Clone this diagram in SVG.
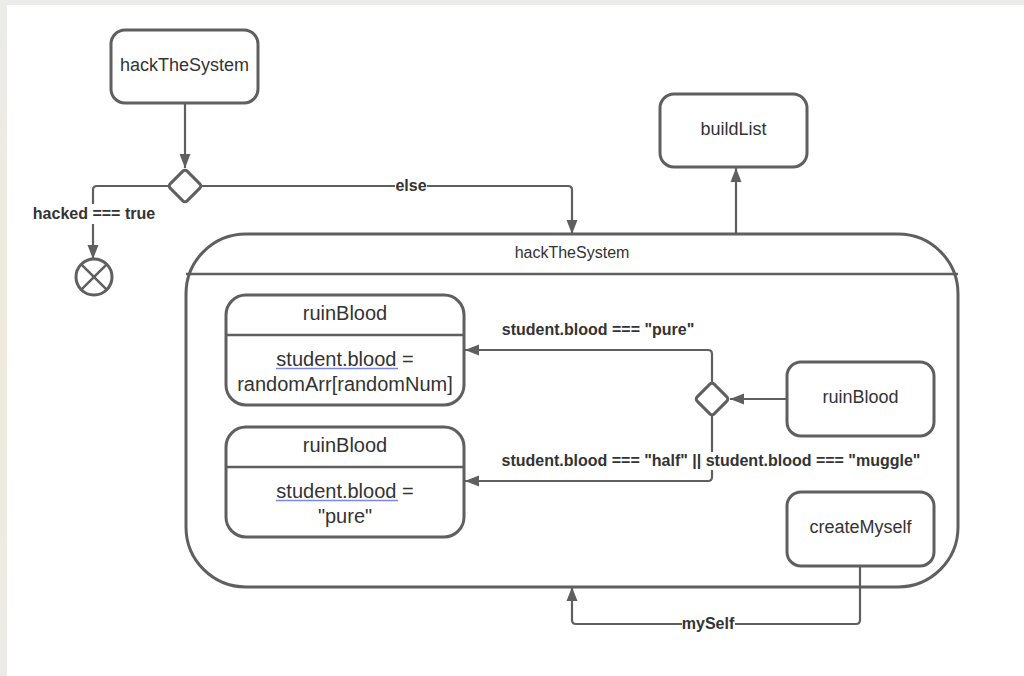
<svg xmlns="http://www.w3.org/2000/svg" width="1024" height="676" viewBox="0 0 1024 676">
<style>
.node{fill:#fff;stroke:#5f5f5f;stroke-width:3}
.line{fill:none;stroke:#5f5f5f;stroke-width:2.5}
.conn{fill:none;stroke:#5f5f5f;stroke-width:2.2}
.t{font-family:"Liberation Sans",Arial,sans-serif;fill:#333;text-anchor:middle}
.n18{font-size:18px}
.n20{font-size:20px}
.n16{font-size:16px}
.lbl{font-family:"Liberation Sans",Arial,sans-serif;font-weight:bold;font-size:16px;fill:#333;text-anchor:middle}
.ul{stroke:#7b86f0;stroke-width:1.3}
</style>
<defs>
<marker id="arr" markerUnits="userSpaceOnUse" markerWidth="14" markerHeight="12" refX="14" refY="6" orient="auto">
<path d="M0,0.5 L14,6 L0,11.5 z" fill="#5f5f5f"/>
</marker>
<linearGradient id="bg" x1="0" y1="0" x2="0" y2="1">
<stop offset="0" stop-color="#ebebe8"/>
<stop offset="0.5" stop-color="#efeadb"/>
<stop offset="1" stop-color="#ecebe6"/>
</linearGradient>
</defs>
<rect x="0" y="0" width="1024" height="676" fill="url(#bg)"/>
<rect x="7" y="5" width="1017" height="671" fill="#fff"/>

<g id="container">
<rect class="node" x="186" y="234" width="772" height="353" rx="60"/>
<line class="line" x1="186" y1="274" x2="958" y2="274"/>
<text class="t n16" x="572" y="258">hackTheSystem</text>
</g>

<g id="connectors">
<path class="conn" d="M185,103 V168" marker-end="url(#arr)"/>
<path class="conn" d="M168,186 H97 Q93,186 93,190 V259" marker-end="url(#arr)"/>
<path class="conn" d="M202,186 H568 Q572,186 572,190 V234" marker-end="url(#arr)"/>
<path class="conn" d="M736,234 V168" marker-end="url(#arr)"/>
<path class="conn" d="M787,399 H730" marker-end="url(#arr)"/>
<path class="conn" d="M712,382 V354 Q712,350 708,350 H465" marker-end="url(#arr)"/>
<path class="conn" d="M712,416 V477 Q712,481 708,481 H465" marker-end="url(#arr)"/>
<path class="conn" d="M860,566 V620 Q860,624 856,624 H576 Q572,624 572,620 V587" marker-end="url(#arr)"/>
<rect x="32" y="204" width="124" height="20" fill="#fff"/>
<text class="lbl" x="94" y="219">hacked === true</text>
<rect x="395" y="178" width="32" height="16" fill="#fff"/>
<text class="lbl" x="411" y="191">else</text>
<text class="lbl" x="598" y="335">student.blood === "pure"</text>
<rect x="499" y="452" width="426" height="18" fill="#fff"/>
<text class="lbl" x="711" y="466">student.blood === "half" || student.blood === "muggle"</text>
<rect x="682" y="616" width="53" height="16" fill="#fff"/>
<text class="lbl" x="708" y="629">mySelf</text>
</g>

<g id="start">
<rect class="node" x="111" y="30" width="147" height="73" rx="14"/>
<text class="t n18" x="184.5" y="71">hackTheSystem</text>
</g>

<g id="decision1">
<rect class="node" x="-12" y="-12" width="24" height="24" rx="3" transform="translate(185,186) rotate(45)"/>
</g>

<g id="final">
<circle class="node" cx="94" cy="277" r="18"/>
<line class="line" x1="81.3" y1="264.3" x2="106.7" y2="289.7" stroke-width="3"/>
<line class="line" x1="106.7" y1="264.3" x2="81.3" y2="289.7" stroke-width="3"/>
</g>

<g id="buildList">
<rect class="node" x="660" y="94" width="147" height="73" rx="14"/>
<text class="t n18" x="733.5" y="135">buildList</text>
</g>

<g id="ruinBlood1">
<rect class="node" x="226" y="295" width="238" height="110" rx="20"/>
<line class="line" x1="226" y1="335" x2="464" y2="335"/>
<text class="t n20" x="345" y="320">ruinBlood</text>
<text class="t n20" x="345" y="366">student.blood =</text>
<line class="ul" x1="276" y1="368.5" x2="398" y2="368.5"/>
<text class="t n20" x="345" y="391">randomArr[randomNum]</text>
</g>

<g id="ruinBlood2">
<rect class="node" x="226" y="427" width="238" height="110" rx="20"/>
<line class="line" x1="226" y1="467" x2="464" y2="467"/>
<text class="t n20" x="345" y="452">ruinBlood</text>
<text class="t n20" x="345" y="498">student.blood =</text>
<line class="ul" x1="276" y1="500.5" x2="398" y2="500.5"/>
<text class="t n20" x="345" y="523">"pure"</text>
</g>

<g id="decision2">
<rect class="node" x="-12" y="-12" width="24" height="24" rx="3" transform="translate(712,399) rotate(45)"/>
</g>

<g id="ruinBlood3">
<rect class="node" x="787" y="362" width="147" height="74" rx="14"/>
<text class="t n18" x="860.5" y="403">ruinBlood</text>
</g>

<g id="createMyself">
<rect class="node" x="787" y="492" width="147" height="74" rx="14"/>
<text class="t n18" x="860.5" y="533">createMyself</text>
</g>
</svg>
